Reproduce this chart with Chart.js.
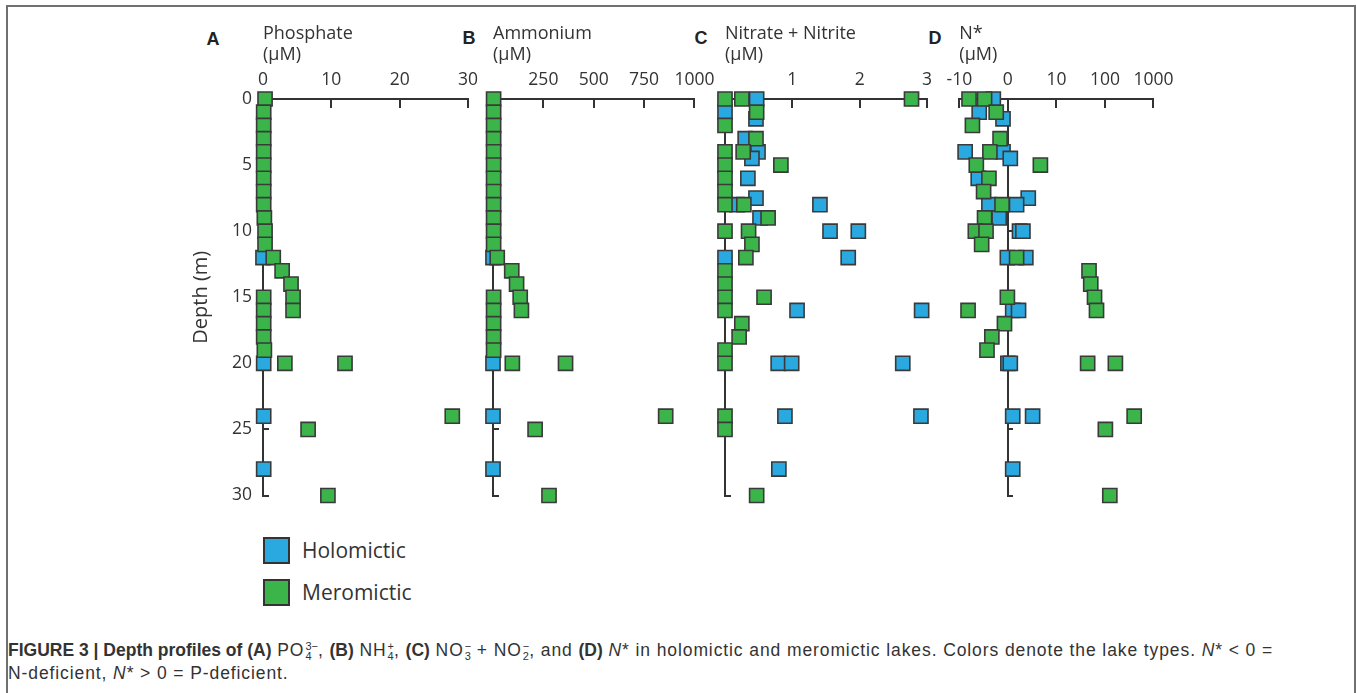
<!DOCTYPE html>
<html>
<head>
<meta charset="utf-8">
<script src="https://cdn.jsdelivr.net/npm/chart.js@4.4.1/dist/chart.umd.min.js"></script>
<style>
  html, body { margin: 0; padding: 0; background: #fff; }
  body { width: 1357px; height: 693px; position: relative; overflow: hidden; font-family: 'Open Sans', sans-serif; color: #333; }
  .frame { position: absolute; left: 6px; top: 5px; width: 1346px; height: 720px; border: 2px solid #707070; border-bottom: none; }
  canvas { position: absolute; }
  .letter { position: absolute; transform: translate(-50%, -50%); font: bold 18px 'Liberation Sans', Arial, sans-serif; line-height: 18px; color: #222; }
  .legend-item { position: absolute; left: 263px; height: 28px; display: flex; align-items: center; font-size: 21px; color: #333; }
  .swatch { width: 23px; height: 23px; border: 2.5px solid #333; margin-right: 12px; }
  .caption { position: absolute; left: 8px; top: 639px; font: 17.5px 'Liberation Sans', Arial, sans-serif; line-height: 23px; color: #333; white-space: nowrap; letter-spacing: 0.9px; }
  .caption b { letter-spacing: 0; }
  .ss { display: inline-flex; flex-direction: column; vertical-align: middle; font-size: 11px; line-height: 10px; margin-left: 1px; letter-spacing: 0; }
</style>
</head>
<body>
<div class="frame"></div>

<div class="letter" style="left:213px;top:39px">A</div>
<div class="letter" style="left:469px;top:38px">B</div>
<div class="letter" style="left:701px;top:38px">C</div>
<div class="letter" style="left:935px;top:38px">D</div>

<div id="legend"></div>

<div class="caption">
<b>FIGURE 3 | Depth profiles of (A)</b> PO<span class="ss"><span>3−</span><span>4</span></span>, <b>(B)</b> NH<span class="ss"><span>+</span><span>4</span></span>, <b>(C)</b> NO<span class="ss"><span>−</span><span>3</span></span> + NO<span class="ss"><span>−</span><span>2</span></span>, and <b>(D)</b> <i>N</i>* in holomictic and meromictic lakes. Colors denote the lake types. <i>N</i>* &lt; 0 =<br>
N-deficient, <i>N</i>* &gt; 0 = P-deficient.
</div>

<script>
// depth axis (m)
const depthTicks = [0, 5, 10, 15, 20, 25, 30];
const depthLabels = ['0', '5', '10', '15', '20', '25', '30'];

const seriesNames = ['Holomictic', 'Meromictic'];

// A - phosphate (uM)
const phosTicks = [0, 10, 20, 30];
const phosLabels = ['0', '10', '20', '30'];
const phosMeroDepth = [0, 1, 2, 3, 4, 5, 6, 7, 8, 9, 10, 11, 12, 13, 14, 15, 15, 16, 16, 17, 18, 19, 20, 20, 24, 25, 30];
const phosMero = [0.3, 0.1, 0.1, 0.1, 0.1, 0.1, 0.1, 0.1, 0.1, 0.2, 0.3, 0.3, 1.5, 2.8, 4.1, 0.1, 4.4, 0.1, 4.4, 0.1, 0.1, 0.2, 3.2, 12.0, 27.7, 6.6, 9.5];
const phosHoloDepth = [12, 20, 24, 28];
const phosHolo = [0, 0.1, 0.1, 0.1];

// B - ammonium (uM)
const ammTicks = [0, 250, 500, 750, 1000];
const ammLabels = ['', '250', '500', '750', '1000'];
const ammMeroDepth = [0, 1, 2, 3, 4, 5, 6, 7, 8, 9, 10, 11, 12, 13, 14, 15, 15, 16, 16, 17, 18, 19, 20, 20, 24, 25, 30];
const ammMero = [3, 3, 3, 3, 3, 3, 3, 3, 3, 3, 3, 3, 21, 93, 117, 3, 135, 3, 141, 3, 3, 3, 96, 360, 857, 209, 278];
const ammHoloDepth = [12, 20, 24, 28];
const ammHolo = [0, 0, 0, 0];

// C - nitrate + nitrite (uM)
const nitTicks = [0, 1, 2, 3];
const nitLabels = ['', '1', '2', '3'];
const nitMeroDepth = [0, 0, 0, 1, 2, 3, 4, 4, 5, 5, 6, 7, 8, 8, 9, 10, 10, 11, 12, 13, 14, 15, 15, 16, 17, 18, 19, 20, 24, 25, 30];
const nitMero = [0, 0.25, 2.77, 0.47, 0, 0.46, 0, 0.27, 0, 0.83, 0, 0, 0, 0.28, 0.64, 0, 0.35, 0.40, 0.31, 0, 0, 0, 0.58, 0, 0.25, 0.21, 0, 0, 0, 0, 0.47];
const nitHoloDepth = [0, 1, 1.5, 3, 4, 4.5, 6, 7.5, 8, 8, 9, 10, 10, 12, 12, 16, 16, 20, 20, 20, 24, 24, 28];
const nitHolo = [0.47, 0, 0.46, 0.30, 0.49, 0.40, 0.34, 0.46, 0.18, 1.41, 0.52, 1.56, 1.98, 0, 1.83, 1.07, 2.92, 0.79, 0.99, 2.64, 0.89, 2.91, 0.80];

// D - N* (uM)
const nstarTicks = [-10, 0, 10, 100, 1000];
const nstarLabels = ['-10', '0', '10', '100', '1000'];
const nstarMeroDepth = [0, 0, 1, 2, 3, 4, 5, 5, 6, 7, 8, 9, 10, 10, 11, 12, 13, 14, 15, 15, 16, 16, 17, 18, 19, 20, 20, 24, 25, 30];
const nstarMero = [-8.0, -4.8, -2.4, -7.3, -1.6, -3.7, -6.5, 6.7, -3.9, -5.0, -1.2, -4.8, -6.7, -4.5, -5.4, 1.8, 47, 51, -0.1, 61, -8.2, 67, -0.7, -3.3, -4.3, 44, 164, 400, 102, 126];
const nstarHoloDepth = [0, 1, 1.5, 4, 4, 4.5, 6, 7.5, 8, 8, 9, 10, 10, 12, 12, 16, 16, 20, 20, 24, 24, 28];
const nstarHolo = [-3.0, -5.9, -1.0, -8.8, -1.0, 0.5, -6.1, 4.2, -3.9, 1.8, -1.8, 2.4, 3.1, -0.1, 3.7, 1.0, 2.2, 0.0, 0.5, 1.0, 5.1, 1.0];

const blue = '#2aa9e0';
const green = '#3bb44a';
const edge = '#3a3a3a';
const axisColor = '#333';
const textColor = '#333';

Chart.defaults.font.family = "'Open Sans', sans-serif";

// linear between -10 and 10, log10 beyond
const toU = v => Math.abs(v) <= 10 ? v / 10 : Math.sign(v) * (1 + Math.log10(Math.abs(v) / 10));
const fromU = u => Math.abs(u) <= 1 ? u * 10 : Math.sign(u) * Math.pow(10, Math.abs(u));

const LinearScale = Chart.LinearScale || Chart.registry.getScale('linear');
class SymlogScale extends LinearScale {
  determineDataLimits() {
    this.min = toU(this.options.min);
    this.max = toU(this.options.max);
  }
  buildTicks() {
    return [];
  }
  getPixelForValue(value) {
    return this.getPixelForDecimal((toU(value) - this._startValue) / this._valueRange);
  }
  getValueForPixel(pixel) {
    return fromU(this._startValue + this.getDecimalForPixel(pixel) * this._valueRange);
  }
}
SymlogScale.id = 'symlog';
SymlogScale.defaults = {};
Chart.register(SymlogScale);

const plotTop = 99, plotBottom = 501, canvasTop = 10, padRight = 34, padBottom = 22;
const axisH = plotTop - canvasTop;

// depthAt: where the depth axis crosses the top axis (null = at the left edge)
const panels = [
  { left: 263, right: 468, yWidth: 78, showDepth: true, depthAt: null, type: 'linear', min: 0, max: 30,
    ticks: phosTicks, labels: phosLabels, title: 'Phosphate',
    meroDepth: phosMeroDepth, mero: phosMero, holoDepth: phosHoloDepth, holo: phosHolo },
  { left: 493, right: 698, yWidth: 24, showDepth: false, depthAt: null, type: 'linear', min: 0, max: 1000,
    ticks: ammTicks, labels: ammLabels, title: 'Ammonium',
    meroDepth: ammMeroDepth, mero: ammMero, holoDepth: ammHoloDepth, holo: ammHolo },
  { left: 725, right: 927, yWidth: 24, showDepth: false, depthAt: null, type: 'linear', min: 0, max: 3,
    ticks: nitTicks, labels: nitLabels, title: 'Nitrate + Nitrite',
    meroDepth: nitMeroDepth, mero: nitMero, holoDepth: nitHoloDepth, holo: nitHolo },
  { left: 953, right: 1157, yWidth: 24, showDepth: false, depthAt: 0, type: 'symlog', min: -10, max: 1000,
    ticks: nstarTicks, labels: nstarLabels, title: 'N*',
    meroDepth: nstarMeroDepth, mero: nstarMero, holoDepth: nstarHoloDepth, holo: nstarHolo }
];

function points(depths, values) {
  return depths.map((d, i) => ({ x: values[i], y: d }));
}

function makePanel(p) {
  const canvas = document.createElement('canvas');
  canvas.width = p.yWidth + (p.right - p.left) + padRight;
  canvas.height = axisH + (plotBottom - plotTop) + padBottom;
  canvas.style.left = (p.left - p.yWidth) + 'px';
  canvas.style.top = canvasTop + 'px';
  document.body.appendChild(canvas);

  const floating = p.depthAt !== null;

  new Chart(canvas, {
    type: 'scatter',
    data: {
      datasets: [
        { label: seriesNames[1], data: points(p.meroDepth, p.mero), backgroundColor: green, clip: false },
        { label: seriesNames[0], data: points(p.holoDepth, p.holo), backgroundColor: blue, clip: false }
      ]
    },
    options: {
      responsive: false,
      animation: false,
      devicePixelRatio: 1,
      layout: { padding: { left: floating ? p.yWidth : 0, top: 0, right: padRight, bottom: padBottom } },
      plugins: { legend: { display: false }, tooltip: { enabled: false } },
      elements: {
        point: { pointStyle: 'rect', radius: 10, hoverRadius: 10, borderWidth: 1.6, borderColor: edge, hoverBorderWidth: 1.6 }
      },
      scales: {
        x: {
          type: p.type,
          position: 'top',
          min: p.min,
          max: p.max,
          afterBuildTicks: s => { s.ticks = p.ticks.map(v => ({ value: v })); },
          afterFit: s => { s.height = axisH; },
          border: { display: true, color: axisColor, width: 2 },
          grid: { drawOnChartArea: false, drawTicks: true, tickLength: -9, color: axisColor, lineWidth: 2 },
          ticks: {
            autoSkip: false, maxRotation: 0, minRotation: 0, padding: 17.5,
            color: textColor, font: { size: 17.5 },
            callback: (v, i) => p.labels[i]
          },
          title: {
            display: true, text: [p.title, '(µM)'], align: 'start', color: textColor,
            font: { size: 18, lineHeight: 1.17 }, padding: { top: 13.5, bottom: 0 }
          }
        },
        y: {
          type: 'linear',
          position: floating ? { x: p.depthAt } : 'left',
          reverse: true,
          min: 0,
          max: 30,
          afterBuildTicks: s => { s.ticks = depthTicks.map(v => ({ value: v })); },
          afterFit: s => { s.width = p.yWidth; },
          border: { display: true, color: axisColor, width: 2 },
          grid: { drawOnChartArea: false, drawTicks: true, tickLength: -6, color: axisColor, lineWidth: 2 },
          ticks: {
            autoSkip: false, padding: 17, color: textColor, font: { size: 17.5 },
            callback: (v, i) => p.showDepth ? depthLabels[i] : ''
          },
          title: {
            display: p.showDepth, text: 'Depth (m)', color: textColor,
            font: { size: 20, lineHeight: 1.2 }, padding: { top: 4, bottom: 0 }
          }
        }
      }
    }
  });
}

panels.forEach(makePanel);

// legend
const legend = document.getElementById('legend');
[[seriesNames[0], blue, 536], [seriesNames[1], green, 578]].forEach(([name, color, top]) => {
  const item = document.createElement('div');
  item.className = 'legend-item';
  item.style.top = top + 'px';
  const sw = document.createElement('div');
  sw.className = 'swatch';
  sw.style.background = color;
  const label = document.createElement('span');
  label.textContent = name;
  item.appendChild(sw);
  item.appendChild(label);
  legend.appendChild(item);
});
</script>
</body>
</html>
